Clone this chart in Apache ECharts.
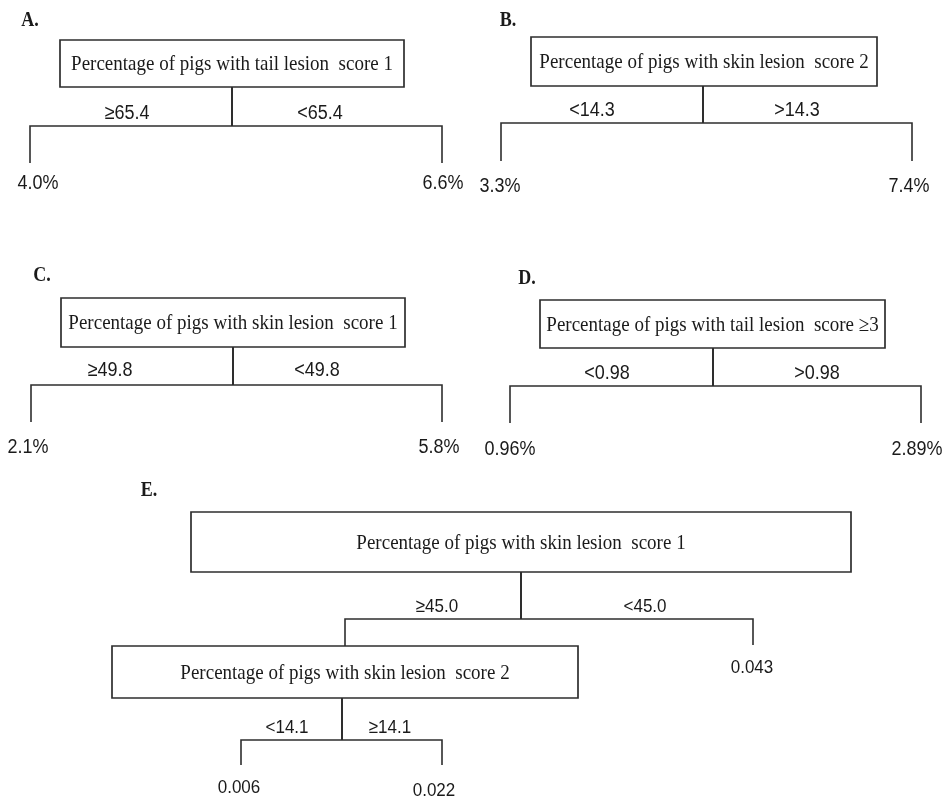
<!DOCTYPE html>
<html>
<head>
<meta charset="utf-8">
<script src="https://cdn.jsdelivr.net/npm/echarts@6/dist/echarts.min.js"></script>
<style>
html,body{margin:0;padding:0;background:#ffffff;}
#chart{width:945px;height:799px;}
</style>
</head>
<body>
<div id="chart"></div>
<script>
// ---------------- DATA ----------------
const panelLetters = ['A.', 'B.', 'C.', 'D.', 'E.'];
// split nodes (index 4 = E root, 5 = E second split)
const splitVariables = [
  'Percentage of pigs with tail lesion  score 1',
  'Percentage of pigs with skin lesion  score 2',
  'Percentage of pigs with skin lesion  score 1',
  'Percentage of pigs with tail lesion  score \u22653',
  'Percentage of pigs with skin lesion  score 1',
  'Percentage of pigs with skin lesion  score 2'
];
const leftConditions  = ['\u226565.4', '<14.3', '\u226549.8', '<0.98', '\u226545.0', '<14.1'];
const rightConditions = ['<65.4', '>14.3', '<49.8', '>0.98', '<45.0', '\u226514.1'];
const leftOutcomes  = ['4.0%', '3.3%', '2.1%', '0.96%', null, '0.006'];
const rightOutcomes = ['6.6%', '7.4%', '5.8%', '2.89%', '0.043', '0.022'];

// ---------------- LAYOUT (positions / sizes, in page units) ----------------
const letterLayout = [[30, 21], [508, 21], [42, 276], [527, 279], [149, 491]];
const nodeLayout = [
  {box:[60,40,404,87],   stemX:232, barY:126, barX:[30,442],  dropEnd:[163,163], condY:113, condX:[127,320], outX:[38,443],  outY:[183,183], fs:18},
  {box:[531,37,877,86],  stemX:703, barY:123, barX:[501,912], dropEnd:[161,161], condY:110, condX:[592,797], outX:[500,909], outY:[186,186], fs:18},
  {box:[61,298,405,347], stemX:233, barY:385, barX:[31,442],  dropEnd:[422,422], condY:370, condX:[110,317], outX:[28,439],  outY:[447,447], fs:18},
  {box:[540,300,885,348],stemX:713, barY:386, barX:[510,921], dropEnd:[423,423], condY:373, condX:[607,817], outX:[510,917], outY:[449,449], fs:18},
  {box:[191,512,851,572],stemX:521, barY:619, barX:[345,753], dropEnd:[646,645], condY:607, condX:[437,645], outX:[null,752],outY:[null,668], fs:17},
  {box:[112,646,578,698],stemX:342, barY:740, barX:[241,442], dropEnd:[765,765], condY:728, condX:[287,390], outX:[239,434], outY:[788,791], fs:17}
];

const LINE = '#2e2e2e';
const TEXT = '#1a1a1a';
const SERIF = '"Liberation Serif", "DejaVu Serif", serif';
const SANS = '"Liberation Sans", Arial, sans-serif';
const TALL = 1.13; // reference glyphs are slightly taller than wide

const chart = echarts.init(document.getElementById('chart'), null, {renderer: 'canvas'});

function label(p, text, size, family, weight) {
  return {type:'text', x:p[0], y:p[1], scaleY:TALL,
    style:{text:text, x:0, y:0, align:'center', verticalAlign:'middle',
      fontSize:size, fontFamily:family, fontWeight:weight || 'normal', fill:TEXT}};
}

function renderNode(params, api) {
  const i = params.dataIndex;
  const L = nodeLayout[i];
  const c = (x, y) => api.coord([x, y]);
  const [x0, y0] = c(L.box[0], L.box[1]);
  const [x1, y1] = c(L.box[2], L.box[3]);
  const kids = [];
  const s0 = c(L.stemX, L.box[3]);
  const s1 = c(L.stemX, L.barY);
  kids.push({type:'line', shape:{x1:s0[0], y1:s0[1], x2:s1[0], y2:s1[1]}, style:{stroke:LINE, lineWidth:2}});
  kids.push({type:'polyline', shape:{points:[
      c(L.barX[0], L.dropEnd[0]), c(L.barX[0], L.barY), c(L.barX[1], L.barY), c(L.barX[1], L.dropEnd[1])
    ]}, style:{stroke:LINE, lineWidth:1.6, fill:null}});
  kids.push({type:'rect', shape:{x:x0, y:y0, width:x1-x0, height:y1-y0},
    style:{fill:'#ffffff', stroke:LINE, lineWidth:1.7}});
  kids.push(label([(x0+x1)/2, (y0+y1)/2 + 1], splitVariables[i], 19, SERIF));
  kids.push(label(c(L.condX[0], L.condY), leftConditions[i], L.fs, SANS));
  kids.push(label(c(L.condX[1], L.condY), rightConditions[i], L.fs, SANS));
  if (leftOutcomes[i] !== null) kids.push(label(c(L.outX[0], L.outY[0]), leftOutcomes[i], L.fs, SANS));
  if (rightOutcomes[i] !== null) kids.push(label(c(L.outX[1], L.outY[1]), rightOutcomes[i], L.fs, SANS));
  return {type:'group', children:kids};
}

function renderLetter(params, api) {
  const p = api.coord(letterLayout[params.dataIndex]);
  return label(p, panelLetters[params.dataIndex], 18, SERIF, 'bold');
}

chart.setOption({
  animation: false,
  backgroundColor: '#ffffff',
  grid: {left:0, right:0, top:0, bottom:0},
  xAxis: {type:'value', min:0, max:945, show:false},
  yAxis: {type:'value', min:0, max:799, inverse:true, show:false},
  series: [
    {type:'custom', coordinateSystem:'cartesian2d', renderItem:renderNode,
     data: splitVariables.map((v, i) => ({name:v, value:[nodeLayout[i].box[0], nodeLayout[i].box[1]]}))},
    {type:'custom', coordinateSystem:'cartesian2d', renderItem:renderLetter,
     data: panelLetters.map((v, i) => ({name:v, value:letterLayout[i]}))}
  ]
});
</script>
</body>
</html>
